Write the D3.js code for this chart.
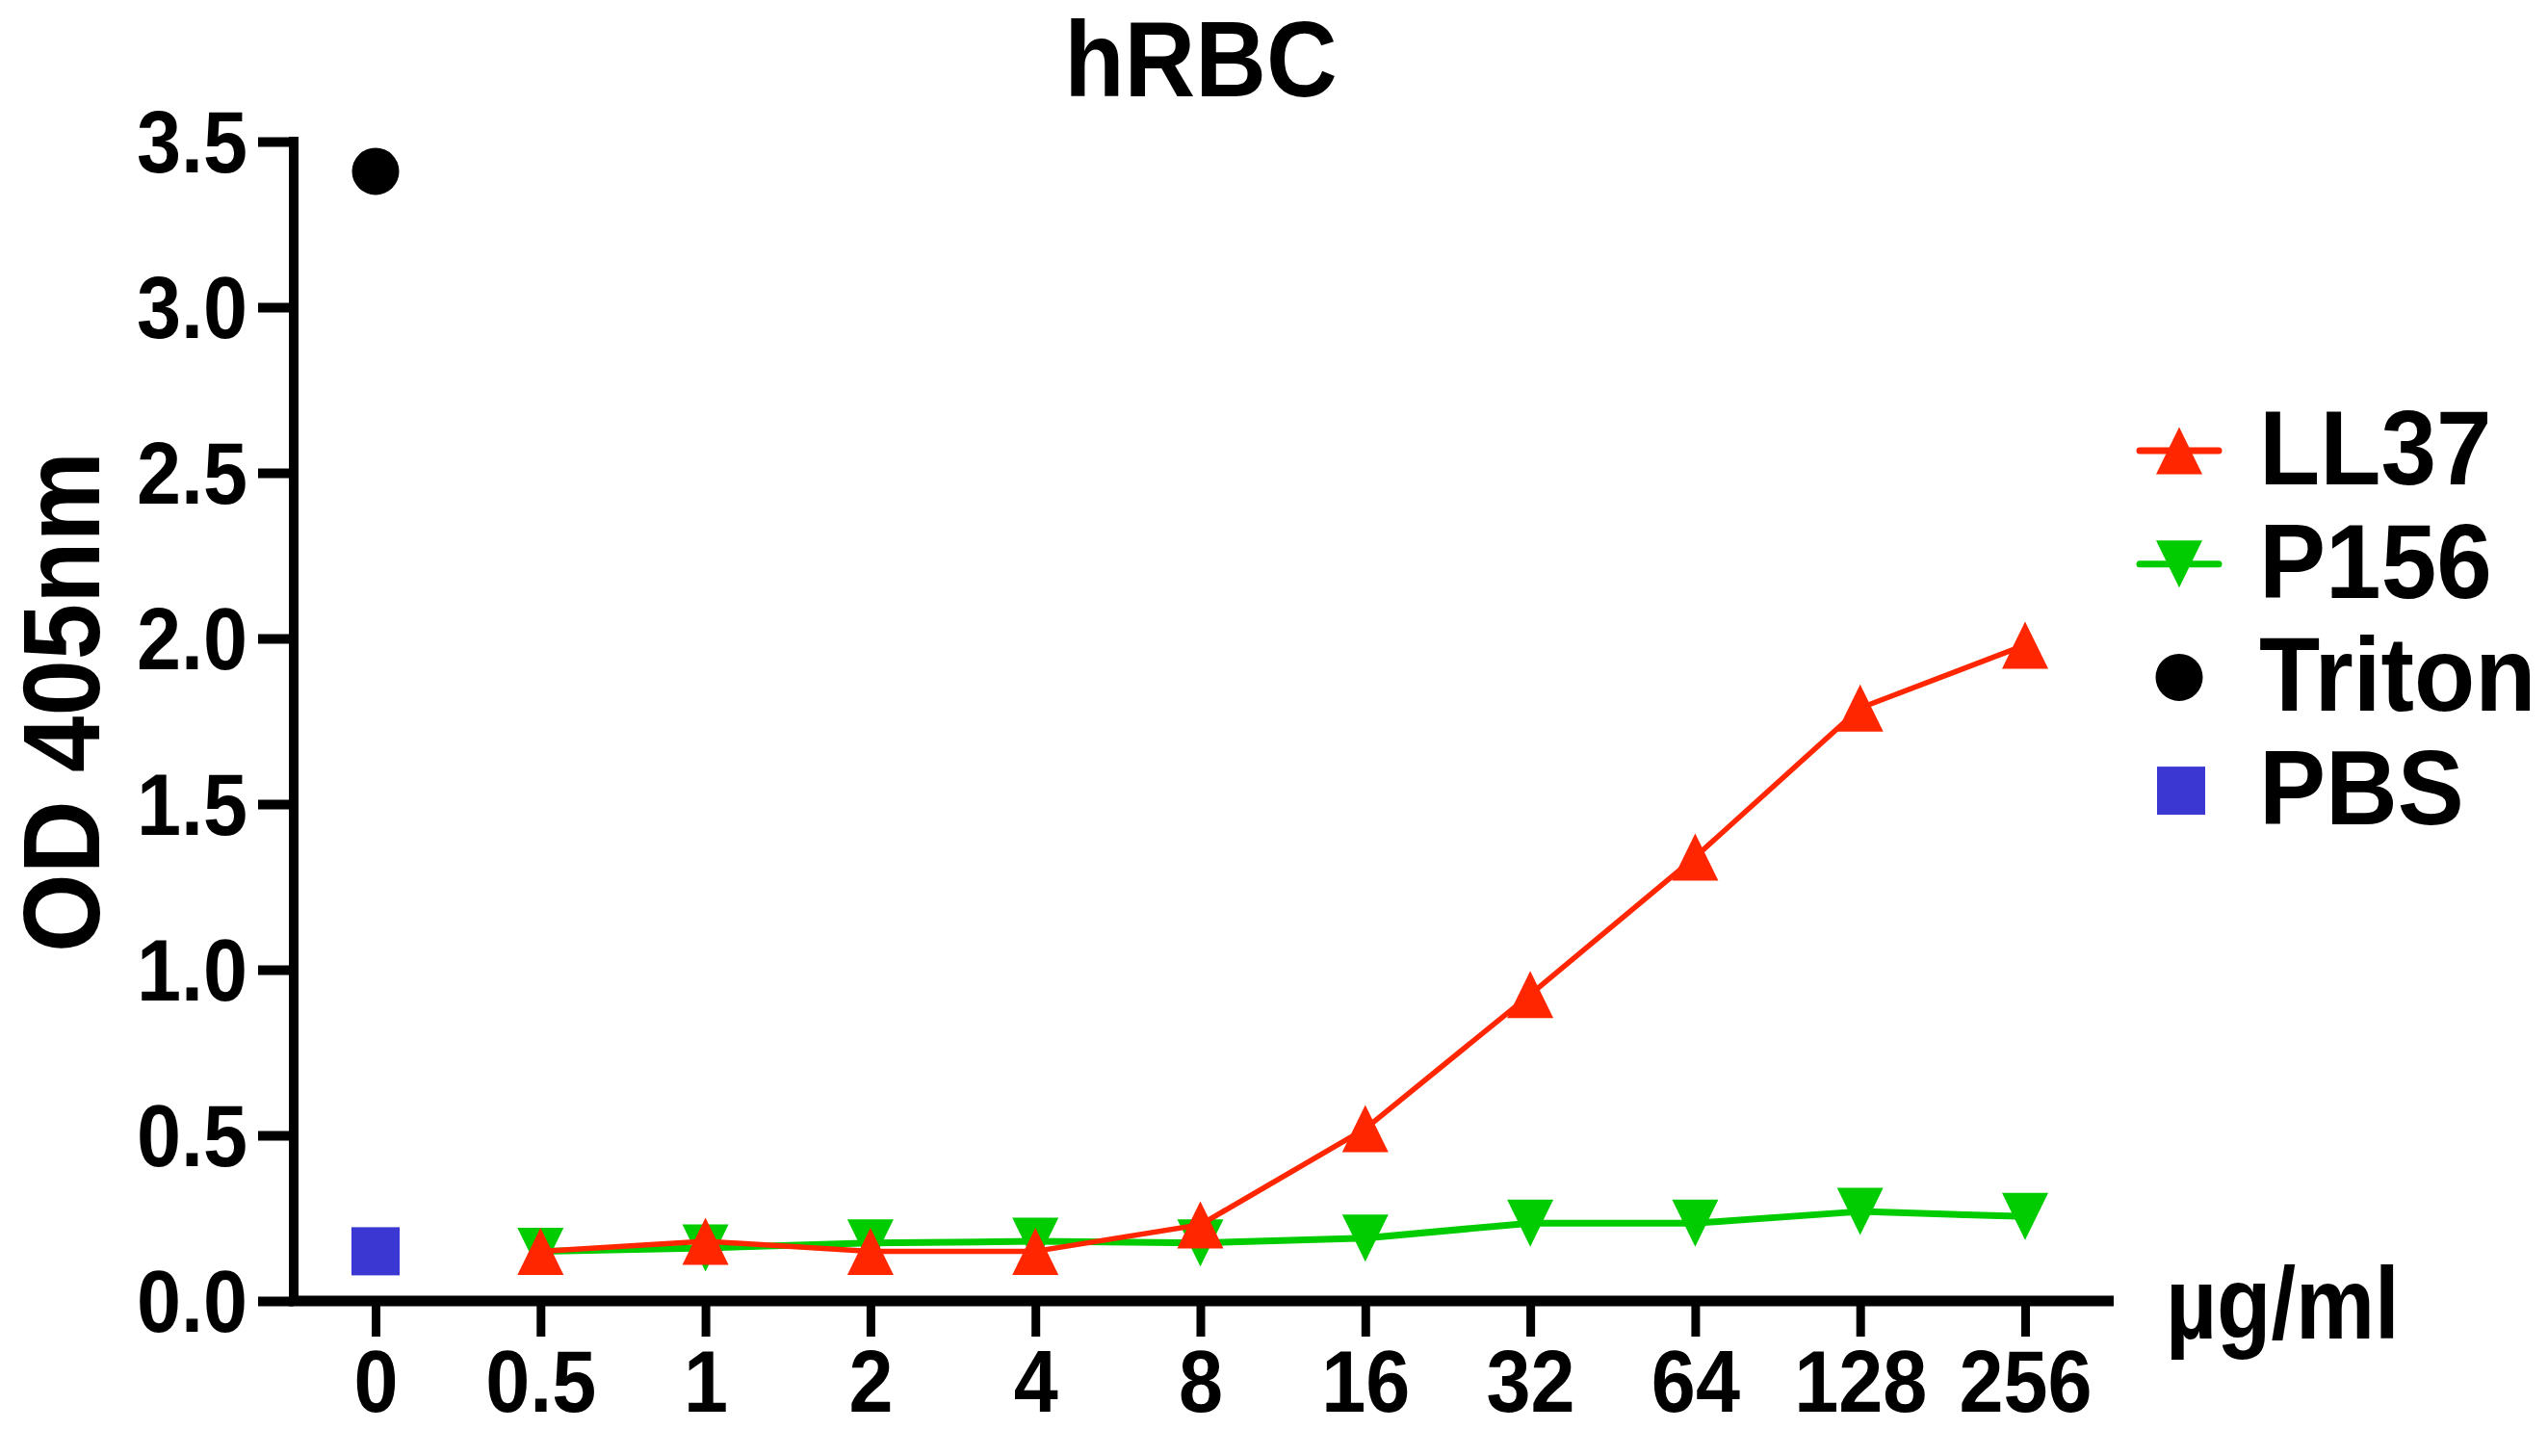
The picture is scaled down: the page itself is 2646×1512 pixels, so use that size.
<!DOCTYPE html>
<html><head><meta charset="utf-8">
<script src="https://cdn.jsdelivr.net/npm/d3@7"></script>
<style>html,body{margin:0;padding:0;background:#fff;} svg{display:block;}</style>
</head><body>
<svg id="chart" width="2646" height="1512"></svg>
<script>
// ---- data ----
const categories = ["0", "0.5", "1", "2", "4", "8", "16", "32", "64", "128", "256"];
const peptideCategories = ["0.5", "1", "2", "4", "8", "16", "32", "64", "128", "256"];
const ll37Values = [0.15, 0.18, 0.15, 0.15, 0.23, 0.52, 0.925, 1.34, 1.79, 1.98];
const p156Values = [0.15, 0.16, 0.175, 0.18, 0.175, 0.19, 0.235, 0.235, 0.27, 0.255];
const tritonCategory = ["0"];
const tritonValues = [3.41];
const pbsCategory = ["0"];
const pbsValues = [0.15];
const yTickValues = [0, 0.5, 1.0, 1.5, 2.0, 2.5, 3.0, 3.5];
const legendLabels = ["LL37", "P156", "Triton", "PBS"];
const titleText = "hRBC";
const yTitleText = "OD 405nm";
const xUnitText = "µg/ml";

// ---- styles ----
const RED = "#ff2600", GREEN = "#00cc00", BLUE = "#3b37d3", BLACK = "#000";
const FONT = "'Liberation Sans', Arial, Helvetica, sans-serif";
const SQ = 0.92; // horizontal condensing of text

const svg = d3.select("#chart");
const x = d3.scalePoint().domain(categories).range([390, 2103]);
const y = d3.scaleLinear().domain([0, 3.5]).range([1351, 147]);

// ---- axes ----
const yAxis = svg.append("g").attr("transform", "translate(305,0)")
  .call(d3.axisLeft(y).tickValues(yTickValues).tickFormat(d3.format(".1f")).tickSizeOuter(0).tickSize(37).tickPadding(0));
yAxis.select(".domain").attr("stroke", BLACK).attr("stroke-width", 10)
  .attr("d", `M0,${y(3.5) - 5}V${y(0)}`);
yAxis.selectAll(".tick line").attr("stroke", BLACK).attr("stroke-width", 10);
yAxis.selectAll(".tick text")
  .attr("font-family", FONT).attr("font-weight", "bold").attr("font-size", 90)
  .attr("fill", BLACK).attr("x", -48 / SQ).attr("dy", "0.355em")
  .attr("transform", `scale(${SQ},1)`);

const xAxis = svg.append("g").attr("transform", `translate(0,${y(0)})`)
  .call(d3.axisBottom(x).tickSizeOuter(0).tickSize(37).tickPadding(0));
xAxis.select(".domain").attr("stroke", BLACK).attr("stroke-width", 11)
  .attr("d", `M300,0H2195`);
xAxis.selectAll(".tick line").attr("stroke", BLACK).attr("stroke-width", 9);
xAxis.selectAll(".tick text").remove();
xAxis.selectAll(".tick").append("text")
  .attr("font-family", FONT).attr("font-weight", "bold").attr("font-size", 90)
  .attr("fill", BLACK).attr("text-anchor", "middle")
  .attr("transform", `translate(0,115) scale(${SQ},1)`)
  .text(d => d);

// ---- series ----
const line = d3.line().x(d => x(d.c)).y(d => y(d.v));
const ll37 = peptideCategories.map((c, i) => ({c, v: ll37Values[i]}));
const p156 = peptideCategories.map((c, i) => ({c, v: p156Values[i]}));

const TW = 48, TH = 49;
const upTri = `M0,${-TH/2}L${TW/2},${TH/2}L${-TW/2},${TH/2}Z`;
const downTri = `M0,${TH/2}L${TW/2},${-TH/2}L${-TW/2},${-TH/2}Z`;

svg.append("path").datum(p156).attr("d", line).attr("fill", "none")
  .attr("stroke", GREEN).attr("stroke-width", 7).attr("stroke-linejoin", "round");
svg.append("g").selectAll("path").data(p156).join("path")
  .attr("d", downTri).attr("fill", GREEN)
  .attr("transform", d => `translate(${x(d.c)},${y(d.v)})`);

svg.append("path").datum(ll37).attr("d", line).attr("fill", "none")
  .attr("stroke", RED).attr("stroke-width", 5.5).attr("stroke-linejoin", "round");
svg.append("g").selectAll("path").data(ll37).join("path")
  .attr("d", upTri).attr("fill", RED)
  .attr("transform", d => `translate(${x(d.c)},${y(d.v)})`);

svg.append("g").selectAll("circle").data(tritonValues).join("circle")
  .attr("cx", (d, i) => x(tritonCategory[i])).attr("cy", d => y(d)).attr("r", 24.5)
  .attr("fill", BLACK);

svg.append("g").selectAll("rect").data(pbsValues).join("rect")
  .attr("x", (d, i) => x(pbsCategory[i]) - 25).attr("y", d => y(d) - 25)
  .attr("width", 50).attr("height", 50).attr("fill", BLUE);

// ---- texts ----
function txt(str, tx, ty, size, anchor, rot, sx) {
  svg.append("text")
    .attr("transform", `translate(${tx},${ty}) rotate(${rot || 0}) scale(${sx || SQ},1)`)
    .attr("font-family", FONT).attr("font-weight", "bold").attr("font-size", size)
    .attr("fill", BLACK).attr("text-anchor", anchor).text(str);
}
txt(titleText, 1247, 100, 111, "middle");
txt(yTitleText, 103, 729, 113, "middle", -90, 0.93);
txt(xUnitText, 2249, 1390, 106, "start", 0, 0.87);

// ---- legend ----
const legendBase = 503, legendStep = 117.7;
const lg = svg.append("g");
legendLabels.forEach((lab, i) => {
  const by = legendBase + i * legendStep;
  const cy = by - 35;
  const cx = 2263;
  const g = lg.append("g");
  if (i === 0) {
    g.append("line").attr("x1", 2222).attr("x2", 2304).attr("y1", cy).attr("y2", cy)
      .attr("stroke", RED).attr("stroke-width", 7).attr("stroke-linecap", "round");
    g.append("path").attr("d", upTri).attr("fill", RED).attr("transform", `translate(${cx},${cy})`);
  } else if (i === 1) {
    g.append("line").attr("x1", 2222).attr("x2", 2304).attr("y1", cy).attr("y2", cy)
      .attr("stroke", GREEN).attr("stroke-width", 7).attr("stroke-linecap", "round");
    g.append("path").attr("d", downTri).attr("fill", GREEN).attr("transform", `translate(${cx},${cy})`);
  } else if (i === 2) {
    g.append("circle").attr("cx", cx).attr("cy", cy).attr("r", 24.5).attr("fill", BLACK);
  } else {
    g.append("rect").attr("x", cx - 25 + 2).attr("y", cy - 25).attr("width", 50).attr("height", 50).attr("fill", BLUE);
  }
  g.append("text")
    .attr("transform", `translate(2346,${by}) scale(0.95,1)`)
    .attr("font-family", FONT).attr("font-weight", "bold").attr("font-size", 109)
    .attr("fill", BLACK).text(lab);
});
</script>
</body></html>
